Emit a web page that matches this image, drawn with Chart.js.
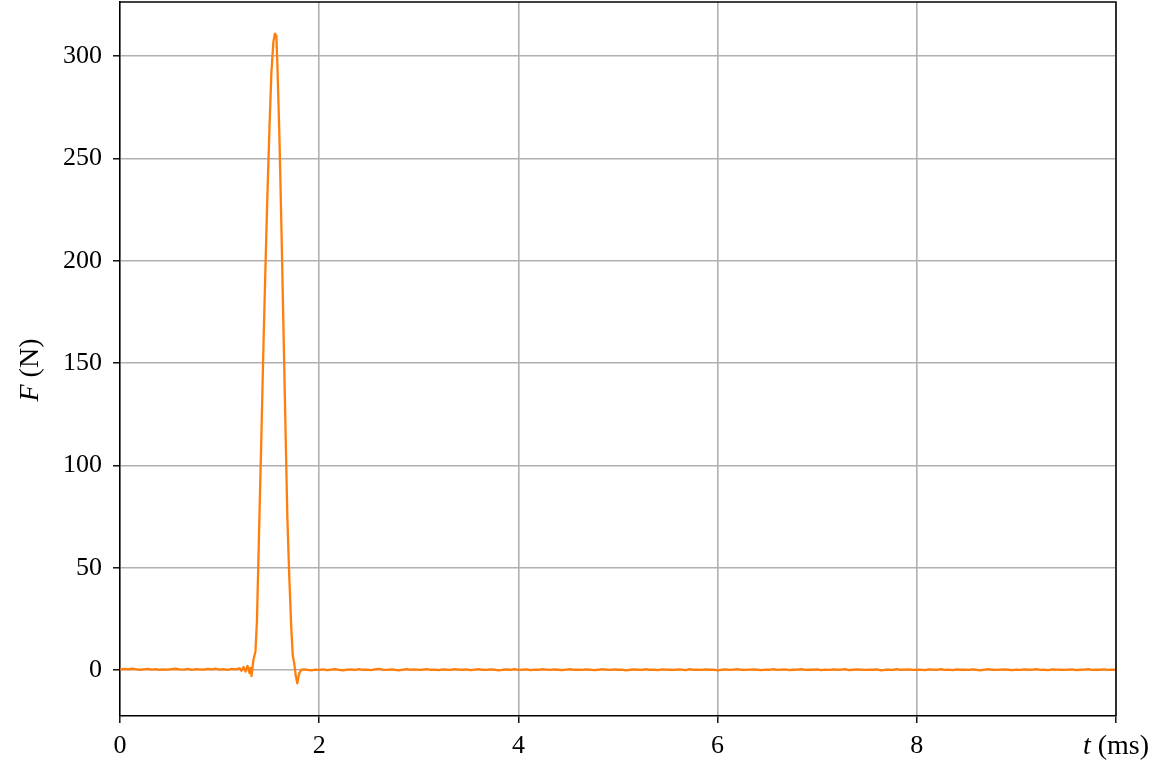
<!DOCTYPE html>
<html>
<head>
<meta charset="utf-8">
<script src="https://cdn.jsdelivr.net/npm/chart.js@4/dist/chart.umd.min.js"></script>
<style>
  html, body { margin: 0; padding: 0; background: #ffffff; }
  #wrap { width: 1161px; height: 767px; }
</style>
</head>
<body>
<div id="wrap"><canvas id="c" width="1161" height="767"></canvas></div>
<script>
// Force sensor trace: F (N) against t (ms)
const sampleStepMs = 0.04;

// baseline before the impact, sampled from t = 0 ms
const preForce = [0.2,0.5,0.3,0.6,0.4,0.1,0.3,0.5,0.2,0.4,
                  0.1,0.3,0.2,0.4,0.6,0.3,0.2,0.5,0.1,0.4,
                  0.3,0.2,0.5,0.3,0.6,0.2,0.4,0.1,0.5,0.3,0.8];

// impact pulse (irregular time stamps)
const pulseTimes = [1.22,1.24,1.26,1.28,1.30,1.31,1.32,1.34,1.36,1.375,
                    1.40,1.42,1.44,1.46,1.48,1.50,1.52,1.54,1.555,1.57,
                    1.58,1.60,1.62,1.64,1.66,1.68,1.70,1.72,1.735,1.75,
                    1.765,1.78,1.80,1.82,1.84];
const pulseForce = [-0.4,1.5,-0.8,2.0,-1.5,1.0,-3.0,5,9,24,
                    75,115,158,196,232,264,292,307,311,310,
                    296,262,218,170,122,75,45,20,7,3,
                    -3,-6.5,-1.5,0.0,0.3];

// baseline after the impact, sampled from t = 1.88 ms
const postStartMs = 1.88;
const postForce = [0.1,-0.2,0.2,0.0,0.3,-0.1,0.2,0.4,0.1,-0.2,
                   0.2,0.3,0.0,0.4,0.1,0.2,-0.1,0.3,0.5,0.2,
                   0.0,0.3,0.1,-0.2,0.2,0.4,0.1,0.3,0.0,0.2,
                   0.4,0.1,0.2,-0.1,0.3,0.2,0.0,0.4,0.2,0.1,
                   0.3,-0.1,0.2,0.4,0.1,0.0,0.3,0.2,-0.2,0.1,
                   0.3,0.1,0.4,0.0,0.2,0.3,-0.1,0.2,0.1,0.4,
                   0.2,0.0,0.3,0.1,-0.1,0.2,0.4,0.1,0.2,0.0,
                   0.3,0.2,-0.1,0.1,0.4,0.2,0.0,0.3,0.1,0.2,
                   -0.2,0.1,0.3,0.2,0.0,0.4,0.1,0.2,-0.1,0.3,
                   0.2,0.1,0.0,0.3,0.2,-0.1,0.4,0.1,0.2,0.0,
                   0.3,0.1,0.2,-0.2,0.1,0.3,0.0,0.2,0.4,0.1,
                   0.0,0.2,0.3,0.1,-0.1,0.2,0.1,0.4,0.0,0.2,
                   0.3,-0.1,0.1,0.2,0.4,0.0,0.2,0.1,0.3,-0.1,
                   0.2,0.0,0.3,0.1,0.2,0.4,-0.1,0.1,0.3,0.2,
                   0.0,0.2,0.1,0.3,-0.2,0.1,0.2,0.0,0.4,0.1,
                   0.2,0.3,0.0,0.1,0.2,-0.1,0.3,0.2,0.1,0.4,
                   0.0,0.2,-0.1,0.3,0.1,0.2,0.0,0.3,0.1,-0.2,
                   0.2,0.4,0.1,0.0,0.2,0.3,0.1,-0.1,0.2,0.0,
                   0.3,0.1,0.2,0.4,0.0,0.1,-0.1,0.3,0.2,0.1,
                   0.0,0.2,0.3,-0.1,0.1,0.2,0.4,0.0,0.2,0.1,
                   0.3,0.0,0.2,0.1];

const xTicks = [0, 2, 4, 6, 8, 10];
const yTicks = [0, 50, 100, 150, 200, 250, 300];
const xRange = [0, 10];
const yRange = [-22.5, 326.5];

// assemble the {x, y} series
const trace = [];
preForce.forEach((f, i) => trace.push({ x: +(i * sampleStepMs).toFixed(3), y: f }));
pulseTimes.forEach((t, i) => trace.push({ x: t, y: pulseForce[i] }));
postForce.forEach((f, i) => trace.push({ x: +(postStartMs + i * sampleStepMs).toFixed(3), y: f }));

const FONT = '"Liberation Serif", "DejaVu Serif", serif';
const FSIZE = 26;
const TITLE_SIZE = 28;
Chart.defaults.font.family = FONT;
Chart.defaults.font.size = FSIZE;
Chart.defaults.color = '#000000';

// axis titles with an italic variable name and an upright unit, plus the closed frame
const axisTitles = {
  id: 'axisTitles',
  afterDraw(chart) {
    const ctx = chart.ctx;
    const area = chart.chartArea;

    ctx.save();
    ctx.strokeStyle = '#000';
    ctx.lineWidth = 1.5;
    ctx.beginPath();
    ctx.moveTo(area.left, area.top);
    ctx.lineTo(area.right, area.top);
    ctx.lineTo(area.right, area.bottom);
    ctx.stroke();
    ctx.restore();

    const drawMixed = (parts, cx, cy, rotate) => {
      ctx.save();
      ctx.translate(cx, cy);
      if (rotate) ctx.rotate(-Math.PI / 2);
      ctx.textBaseline = 'middle';
      ctx.textAlign = 'left';
      ctx.fillStyle = '#000';
      let total = 0;
      const widths = parts.map(p => {
        ctx.font = (p.italic ? 'italic ' : '') + TITLE_SIZE + 'px ' + FONT;
        const w = ctx.measureText(p.text).width;
        total += w;
        return w;
      });
      let x = -total / 2;
      parts.forEach((p, i) => {
        ctx.font = (p.italic ? 'italic ' : '') + TITLE_SIZE + 'px ' + FONT;
        ctx.fillText(p.text, x, 0);
        x += widths[i];
      });
      ctx.restore();
    };
    drawMixed([{ text: 'F', italic: true }, { text: ' (N)', italic: false }],
              31, 370, true);
    drawMixed([{ text: 't', italic: true }, { text: ' (ms)', italic: false }],
              area.right, 747, false);
  }
};

new Chart(document.getElementById('c'), {
  type: 'line',
  data: {
    datasets: [{
      data: trace,
      borderColor: '#ff7f0e',
      borderWidth: 2.3,
      pointRadius: 0,
      tension: 0,
      fill: false,
      borderJoinStyle: 'round'
    }]
  },
  options: {
    responsive: false,
    animation: false,
    devicePixelRatio: 1,
    layout: { padding: { left: 0, top: 2, right: 45, bottom: 0 } },
    plugins: { legend: { display: false }, tooltip: { enabled: false } },
    scales: {
      x: {
        type: 'linear',
        min: xRange[0],
        max: xRange[1],
        afterBuildTicks(scale) { scale.ticks = xTicks.map(v => ({ value: v })); },
        afterFit(scale) {
          scale.height = 51;
          scale.paddingLeft = 0; scale.paddingRight = 0;
          scale.paddingTop = 0; scale.paddingBottom = 0;
        },
        ticks: {
          padding: 8,
          maxRotation: 0,
          callback: v => (v === xRange[1] ? '' : String(v))
        },
        grid: { color: '#b0b0b0', lineWidth: 1.6, tickColor: '#000', tickLength: 7, tickWidth: 1.4 },
        border: { color: '#000', width: 1.5 }
      },
      y: {
        type: 'linear',
        min: yRange[0],
        max: yRange[1],
        afterBuildTicks(scale) { scale.ticks = yTicks.map(v => ({ value: v })); },
        afterFit(scale) {
          scale.width = 120;
          scale.paddingLeft = 0; scale.paddingRight = 0;
          scale.paddingTop = 0; scale.paddingBottom = 0;
        },
        ticks: { padding: 11, callback: v => String(v) },
        grid: { color: '#b0b0b0', lineWidth: 1.6, tickColor: '#000', tickLength: 7, tickWidth: 1.4 },
        border: { color: '#000', width: 1.5 }
      }
    }
  },
  plugins: [axisTitles]
});
</script>
</body>
</html>
